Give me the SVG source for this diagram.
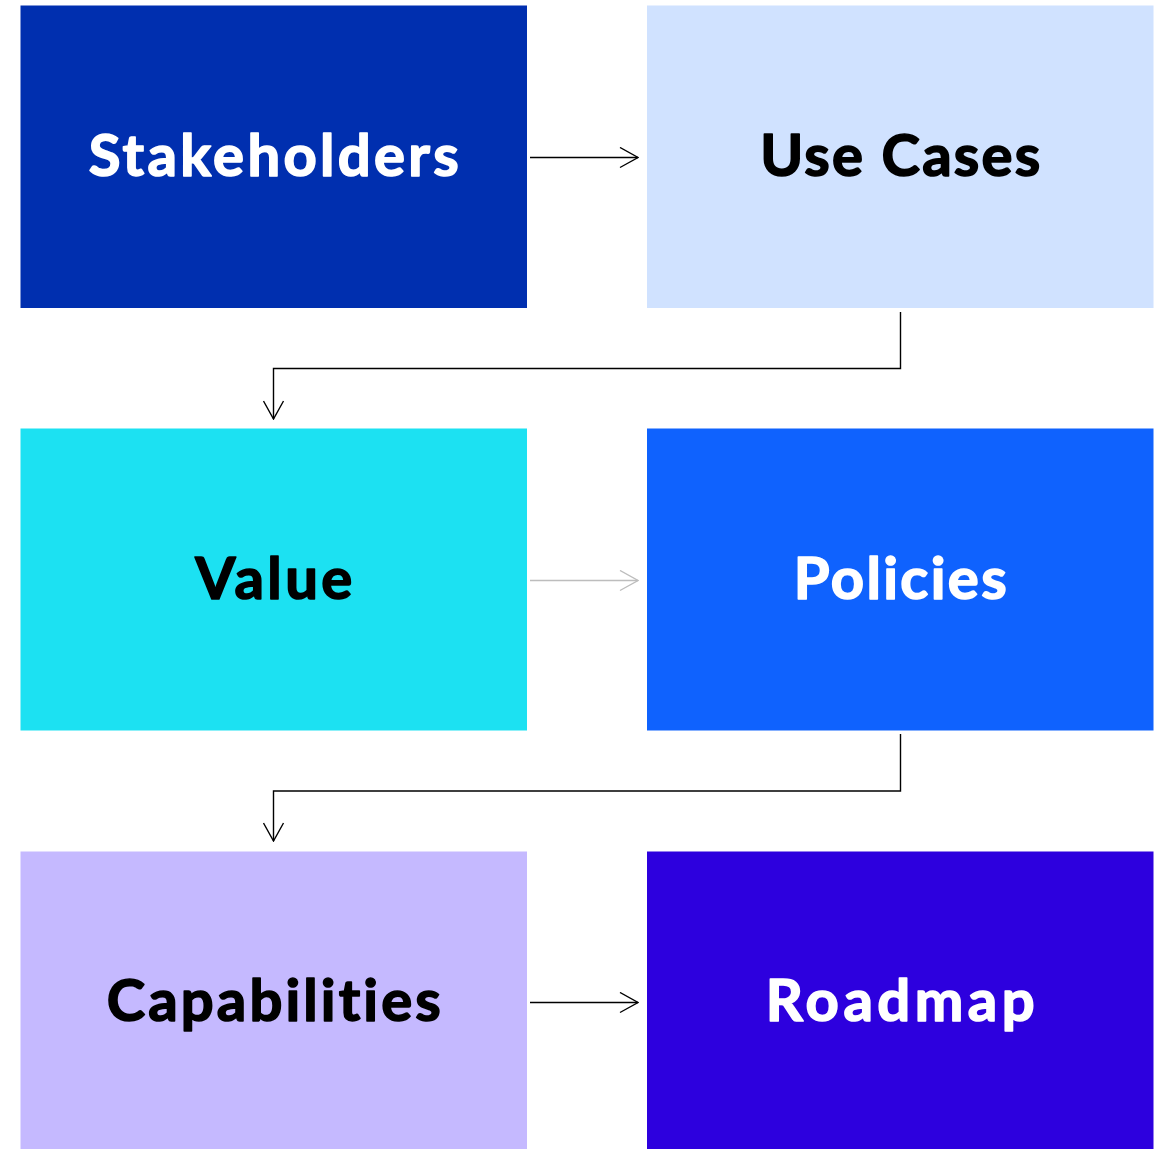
<svg xmlns="http://www.w3.org/2000/svg" width="1165" height="1149" viewBox="0 0 1165 1149">
<defs>
<style>
.lbl{font-family:Lato,"Open Sans","Liberation Sans",sans-serif;font-weight:700;font-size:58px;text-anchor:middle;font-variant-ligatures:none;stroke-width:1.6;stroke-linejoin:round}
.w{fill:#ffffff;stroke:#ffffff}.k{fill:#000000;stroke:#000000}
.c{fill:none;stroke:#000;stroke-width:1.4}
.g{stroke:#bdbdbd}
</style>
<marker id="ah" viewBox="0 0 20 22" refX="19" refY="11" markerWidth="20" markerHeight="22" markerUnits="userSpaceOnUse" orient="auto">
<path d="M1,1 L19,11 L1,21" fill="none" stroke="#000" stroke-width="1.4"/>
</marker>
<marker id="ahg" viewBox="0 0 20 22" refX="19" refY="11" markerWidth="20" markerHeight="22" markerUnits="userSpaceOnUse" orient="auto">
<path d="M1,1 L19,11 L1,21" fill="none" stroke="#bdbdbd" stroke-width="1.4"/>
</marker>
</defs>
<rect width="1165" height="1149" fill="#ffffff"/>
<g id="connectors">
<path class="c" d="M530,157.5 H638" marker-end="url(#ah)"/>
<path class="c" d="M900.5,312 V368.5 H273.5 V419" marker-end="url(#ah)"/>
<path class="c g" d="M530,580.5 H638" marker-end="url(#ahg)"/>
<path class="c" d="M900.5,734 V791 H273.5 V841" marker-end="url(#ah)"/>
<path class="c" d="M530,1002.5 H638" marker-end="url(#ah)"/>
</g>
<g id="stakeholders"><rect x="20.5" y="5.5" width="506.5" height="302.5" fill="#002FAF"/><text class="lbl w" x="273.75" y="176" textLength="370" lengthAdjust="spacing">Stakeholders</text></g>
<g id="use-cases"><rect x="647" y="5.5" width="506.5" height="302.5" fill="#D0E2FF"/><text class="lbl k" x="900.25" y="176" textLength="280" lengthAdjust="spacing">Use Cases</text></g>
<g id="value"><rect x="20.5" y="428.5" width="506.5" height="302" fill="#1CE1F2"/><text class="lbl k" x="273.75" y="599" textLength="157" lengthAdjust="spacing">Value</text></g>
<g id="policies"><rect x="647" y="428.5" width="506.5" height="302" fill="#0F62FE"/><text class="lbl w" x="900.25" y="599" textLength="213" lengthAdjust="spacing">Policies</text></g>
<g id="capabilities"><rect x="20.5" y="851.5" width="506.5" height="297.5" fill="#C5B9FF"/><text class="lbl k" x="273.75" y="1021" textLength="334" lengthAdjust="spacing">Capabilities</text></g>
<g id="roadmap"><rect x="647" y="851.5" width="506.5" height="297.5" fill="#2D00DE"/><text class="lbl w" x="900.25" y="1021" textLength="269" lengthAdjust="spacing">Roadmap</text></g>
</svg>
